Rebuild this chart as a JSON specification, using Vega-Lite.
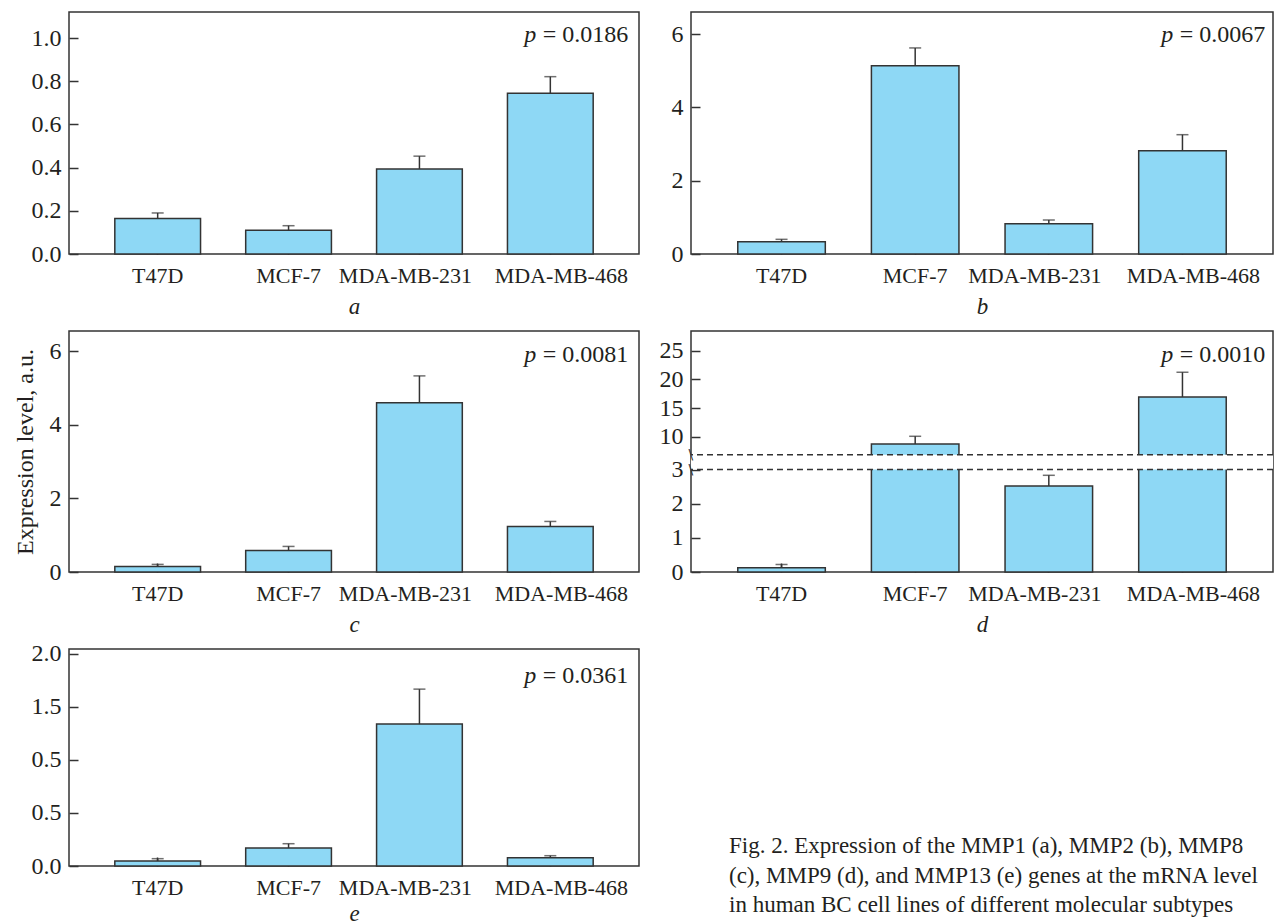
{
  "$schema": "https://vega.github.io/schema/vega-lite/v6.json",
  "background": "white",
  "padding": {"left": 12, "top": 11, "right": 0, "bottom": 0},
  "datasets": {
    "a": [
      {"line": "T47D", "value": 0.164, "upper": 0.19},
      {"line": "MCF-7", "value": 0.11, "upper": 0.131},
      {"line": "MDA-MB-231", "value": 0.394, "upper": 0.453},
      {"line": "MDA-MB-468", "value": 0.744, "upper": 0.821}
    ],
    "b": [
      {"line": "T47D", "value": 0.335, "upper": 0.40},
      {"line": "MCF-7", "value": 5.135, "upper": 5.62},
      {"line": "MDA-MB-231", "value": 0.827, "upper": 0.927},
      {"line": "MDA-MB-468", "value": 2.818, "upper": 3.254}
    ],
    "c": [
      {"line": "T47D", "value": 0.152, "upper": 0.207},
      {"line": "MCF-7", "value": 0.587, "upper": 0.695},
      {"line": "MDA-MB-231", "value": 4.597, "upper": 5.33},
      {"line": "MDA-MB-468", "value": 1.238, "upper": 1.374}
    ],
    "d": [
      {"line": "T47D", "value": 0.125, "upper": 0.22},
      {"line": "MCF-7", "value": 8.78, "upper": 10.12},
      {"line": "MDA-MB-231", "value": 2.52, "upper": 2.83},
      {"line": "MDA-MB-468", "value": 16.95, "upper": 21.25}
    ],
    "e": [
      {"line": "T47D", "value": 0.047, "upper": 0.069},
      {"line": "MCF-7", "value": 0.17, "upper": 0.21},
      {"line": "MDA-MB-231", "value": 1.337, "upper": 1.666},
      {"line": "MDA-MB-468", "value": 0.078, "upper": 0.097}
    ]
  },
  "columns": 2,
  "align": "each",
  "bounds": "flush",
  "spacing": {"row": 77, "column": 52},
  "concat": [
    {
      "width": 570, "height": 242,
      "layer": [
        {
          "data": {"name": "a"},
          "encoding": {"x": {"field": "line", "type": "nominal", "sort": null, "scale": {"paddingInner": 0.345, "paddingOuter": 0.35}, "axis": {"title": "a"}}},
          "layer": [
            {"mark": {"type": "bar", "fill": "#8ED8F5", "stroke": "#333333", "strokeWidth": 1.5},
             "encoding": {"y": {"field": "value", "type": "quantitative", "scale": {"domain": [0, 1.1204], "nice": false}, "axis": {"title": null, "values": [0, 0.2, 0.4, 0.6, 0.8, 1.0], "format": ".1f", "tickCount": 12}}}},
            {"mark": {"type": "rule", "color": "#333333", "strokeWidth": 1.5},
             "encoding": {"y": {"field": "value", "type": "quantitative"}, "y2": {"field": "upper"}}},
            {"mark": {"type": "tick", "color": "#333333", "size": 12, "thickness": 1.5},
             "encoding": {"y": {"field": "upper", "type": "quantitative"}}}
          ]
        },
        {
          "data": {"values": [{"p": "p", "txt": "= 0.0186", "ypos": 1.0139}]},
          "encoding": {
            "x": {"datum": "MDA-MB-468", "type": "nominal", "bandPosition": 1},
            "y": {"field": "ypos", "type": "quantitative"}
          },
          "layer": [
            {"mark": {"type": "text", "align": "right", "baseline": "middle", "dx": 35, "fontSize": 24, "font": "Liberation Serif", "color": "#231f20"}, "encoding": {"text": {"field": "txt"}}},
            {"mark": {"type": "text", "align": "right", "baseline": "middle", "dx": -57, "fontSize": 24, "font": "Liberation Serif", "fontStyle": "italic", "color": "#231f20"}, "encoding": {"text": {"field": "p"}}}
          ]
        }
      ]
    },
    {
      "width": 582, "height": 242,
      "layer": [
        {
          "data": {"name": "b"},
          "encoding": {"x": {"field": "line", "type": "nominal", "sort": null, "scale": {"paddingInner": 0.345, "paddingOuter": 0.35}, "axis": {"title": "b"}}},
          "layer": [
            {"mark": {"type": "bar", "fill": "#8ED8F5", "stroke": "#333333", "strokeWidth": 1.5},
             "encoding": {"y": {"field": "value", "type": "quantitative", "scale": {"domain": [0, 6.6], "nice": false}, "axis": {"title": null, "values": [0, 2, 4, 6], "format": "d", "tickCount": 12}}}},
            {"mark": {"type": "rule", "color": "#333333", "strokeWidth": 1.5},
             "encoding": {"y": {"field": "value", "type": "quantitative"}, "y2": {"field": "upper"}}},
            {"mark": {"type": "tick", "color": "#333333", "size": 12, "thickness": 1.5},
             "encoding": {"y": {"field": "upper", "type": "quantitative"}}}
          ]
        },
        {
          "data": {"values": [{"p": "p", "txt": "= 0.0067", "ypos": 5.972}]},
          "encoding": {
            "x": {"datum": "MDA-MB-468", "type": "nominal", "bandPosition": 1},
            "y": {"field": "ypos", "type": "quantitative"}
          },
          "layer": [
            {"mark": {"type": "text", "align": "right", "baseline": "middle", "dx": 39, "fontSize": 24, "font": "Liberation Serif", "color": "#231f20"}, "encoding": {"text": {"field": "txt"}}},
            {"mark": {"type": "text", "align": "right", "baseline": "middle", "dx": -53, "fontSize": 24, "font": "Liberation Serif", "fontStyle": "italic", "color": "#231f20"}, "encoding": {"text": {"field": "p"}}}
          ]
        }
      ]
    },
    {
      "width": 570, "height": 241,
      "layer": [
        {
          "data": {"name": "c"},
          "encoding": {"x": {"field": "line", "type": "nominal", "sort": null, "scale": {"paddingInner": 0.345, "paddingOuter": 0.35}, "axis": {"title": "c"}}},
          "layer": [
            {"mark": {"type": "bar", "fill": "#8ED8F5", "stroke": "#333333", "strokeWidth": 1.5},
             "encoding": {"y": {"field": "value", "type": "quantitative", "scale": {"domain": [0, 6.55], "nice": false}, "axis": {"title": "Expression level, a.u.", "values": [0, 2, 4, 6], "format": "d", "tickCount": 12}}}},
            {"mark": {"type": "rule", "color": "#333333", "strokeWidth": 1.5},
             "encoding": {"y": {"field": "value", "type": "quantitative"}, "y2": {"field": "upper"}}},
            {"mark": {"type": "tick", "color": "#333333", "size": 12, "thickness": 1.5},
             "encoding": {"y": {"field": "upper", "type": "quantitative"}}}
          ]
        },
        {
          "data": {"values": [{"p": "p", "txt": "= 0.0081", "ypos": 5.905}]},
          "encoding": {
            "x": {"datum": "MDA-MB-468", "type": "nominal", "bandPosition": 1},
            "y": {"field": "ypos", "type": "quantitative"}
          },
          "layer": [
            {"mark": {"type": "text", "align": "right", "baseline": "middle", "dx": 35, "fontSize": 24, "font": "Liberation Serif", "color": "#231f20"}, "encoding": {"text": {"field": "txt"}}},
            {"mark": {"type": "text", "align": "right", "baseline": "middle", "dx": -57, "fontSize": 24, "font": "Liberation Serif", "fontStyle": "italic", "color": "#231f20"}, "encoding": {"text": {"field": "p"}}}
          ]
        }
      ]
    },
    {
      "width": 582, "height": 241,
      "layer": [
        {
          "data": {"name": "d"},
          "encoding": {"x": {"field": "line", "type": "nominal", "sort": null, "scale": {"paddingInner": 0.345, "paddingOuter": 0.35}, "axis": {"title": "d"}}},
          "layer": [
            {"mark": {"type": "bar", "fill": "#8ED8F5", "stroke": "#333333", "strokeWidth": 1.5},
             "encoding": {"y": {"field": "value", "type": "quantitative", "scale": {"domain": [0, 3, 6.92, 28.42], "range": [241, 138.5, 123.7, 0], "nice": false}, "axis": {"title": null, "values": [0, 1, 2, 3, 10, 15, 20, 25], "format": "d", "labelOverlap": false, "tickCount": 20}}}},
            {"mark": {"type": "rule", "color": "#333333", "strokeWidth": 1.5},
             "encoding": {"y": {"field": "value", "type": "quantitative"}, "y2": {"field": "upper"}}},
            {"mark": {"type": "tick", "color": "#333333", "size": 12, "thickness": 1.5},
             "encoding": {"y": {"field": "upper", "type": "quantitative"}}}
          ]
        },
        {"data": {"values": [{"low": 3, "high": 6.92}]},
         "mark": {"type": "rect", "fill": "white"},
         "encoding": {"y": {"field": "low", "type": "quantitative"}, "y2": {"field": "high"}}},
        {"data": {"values": [{"brk": 3}, {"brk": 6.92}]},
         "mark": {"type": "rule", "color": "#333333", "strokeWidth": 1.5, "strokeDash": [6, 4]},
         "encoding": {"y": {"field": "brk", "type": "quantitative"}}},
        {"data": {"values": [{"brk": 3}, {"brk": 6.92}]},
         "mark": {"type": "text", "text": "\\", "fontSize": 14, "font": "DejaVu Sans", "align": "center", "baseline": "middle", "dx": -47, "color": "#333333"},
         "encoding": {
           "x": {"datum": "T47D", "type": "nominal", "bandPosition": 0},
           "y": {"field": "brk", "type": "quantitative"}
         }},
        {
          "data": {"values": [{"p": "p", "txt": "= 0.0010", "ypos": 24.29}]},
          "encoding": {
            "x": {"datum": "MDA-MB-468", "type": "nominal", "bandPosition": 1},
            "y": {"field": "ypos", "type": "quantitative"}
          },
          "layer": [
            {"mark": {"type": "text", "align": "right", "baseline": "middle", "dx": 39, "fontSize": 24, "font": "Liberation Serif", "color": "#231f20"}, "encoding": {"text": {"field": "txt"}}},
            {"mark": {"type": "text", "align": "right", "baseline": "middle", "dx": -53, "fontSize": 24, "font": "Liberation Serif", "fontStyle": "italic", "color": "#231f20"}, "encoding": {"text": {"field": "p"}}}
          ]
        }
      ]
    },
    {
      "width": 570, "height": 217,
      "layer": [
        {
          "data": {"name": "e"},
          "encoding": {"x": {"field": "line", "type": "nominal", "sort": null, "scale": {"paddingInner": 0.345, "paddingOuter": 0.35}, "axis": {"title": "e", "titlePadding": 4}}},
          "layer": [
            {"mark": {"type": "bar", "fill": "#8ED8F5", "stroke": "#333333", "strokeWidth": 1.5},
             "encoding": {"y": {"field": "value", "type": "quantitative", "scale": {"domain": [0, 2.044], "nice": false}, "axis": {"title": null, "values": [0, 0.5, 1, 1.5, 2], "tickCount": 12, "labelExpr": "datum.value == 1 ? '0.5' : format(datum.value, '.1f')"}}}},
            {"mark": {"type": "rule", "color": "#333333", "strokeWidth": 1.5},
             "encoding": {"y": {"field": "value", "type": "quantitative"}, "y2": {"field": "upper"}}},
            {"mark": {"type": "tick", "color": "#333333", "size": 12, "thickness": 1.5},
             "encoding": {"y": {"field": "upper", "type": "quantitative"}}}
          ]
        },
        {
          "data": {"values": [{"p": "p", "txt": "= 0.0361", "ypos": 1.794}]},
          "encoding": {
            "x": {"datum": "MDA-MB-468", "type": "nominal", "bandPosition": 1},
            "y": {"field": "ypos", "type": "quantitative"}
          },
          "layer": [
            {"mark": {"type": "text", "align": "right", "baseline": "middle", "dx": 35, "fontSize": 24, "font": "Liberation Serif", "color": "#231f20"}, "encoding": {"text": {"field": "txt"}}},
            {"mark": {"type": "text", "align": "right", "baseline": "middle", "dx": -57, "fontSize": 24, "font": "Liberation Serif", "fontStyle": "italic", "color": "#231f20"}, "encoding": {"text": {"field": "p"}}}
          ]
        }
      ]
    },
    {
      "width": 582, "height": 186,
      "view": {"stroke": null},
      "data": {"values": [{"t": ""}]},
      "title": {
        "text": [
          "Fig. 2. Expression of the MMP1 (a), MMP2 (b), MMP8",
          "(c), MMP9 (d), and MMP13 (e) genes at the mRNA level",
          "in human BC cell lines of different molecular subtypes"
        ],
        "orient": "bottom", "anchor": "start", "frame": "group", "align": "left",
        "baseline": "top", "offset": 0, "dx": 38, "fontSize": 23, "lineHeight": 29.5,
        "font": "Liberation Serif", "fontWeight": "normal", "color": "#231f20"
      },
      "mark": {"type": "text"},
      "encoding": {"text": {"field": "t", "type": "nominal"}}
    }
  ],
  "config": {
    "font": "Liberation Serif",
    "view": {"stroke": "#333333", "strokeWidth": 1.5},
    "axis": {
      "labelFont": "Liberation Serif", "titleFont": "Liberation Serif",
      "labelColor": "#231f20", "titleColor": "#231f20",
      "domain": false, "grid": false,
      "tickColor": "#333333", "tickWidth": 1.5, "tickSize": -9,
      "titleFontWeight": "normal"
    },
    "axisX": {
      "labelAngle": 0, "labelFontSize": 22, "labelPadding": 20,
      "titleFontSize": 23, "titleFontStyle": "italic", "titlePadding": 9,
      "labelOffset": {"condition": [{"test": "datum.value === 'MDA-MB-231'", "value": -14}, {"test": "datum.value === 'MDA-MB-468'", "value": 11}], "value": 0}
    },
    "axisY": {"labelFontSize": 24, "labelPadding": 17, "titleFontSize": 24, "titlePadding": 12}
  }
}
